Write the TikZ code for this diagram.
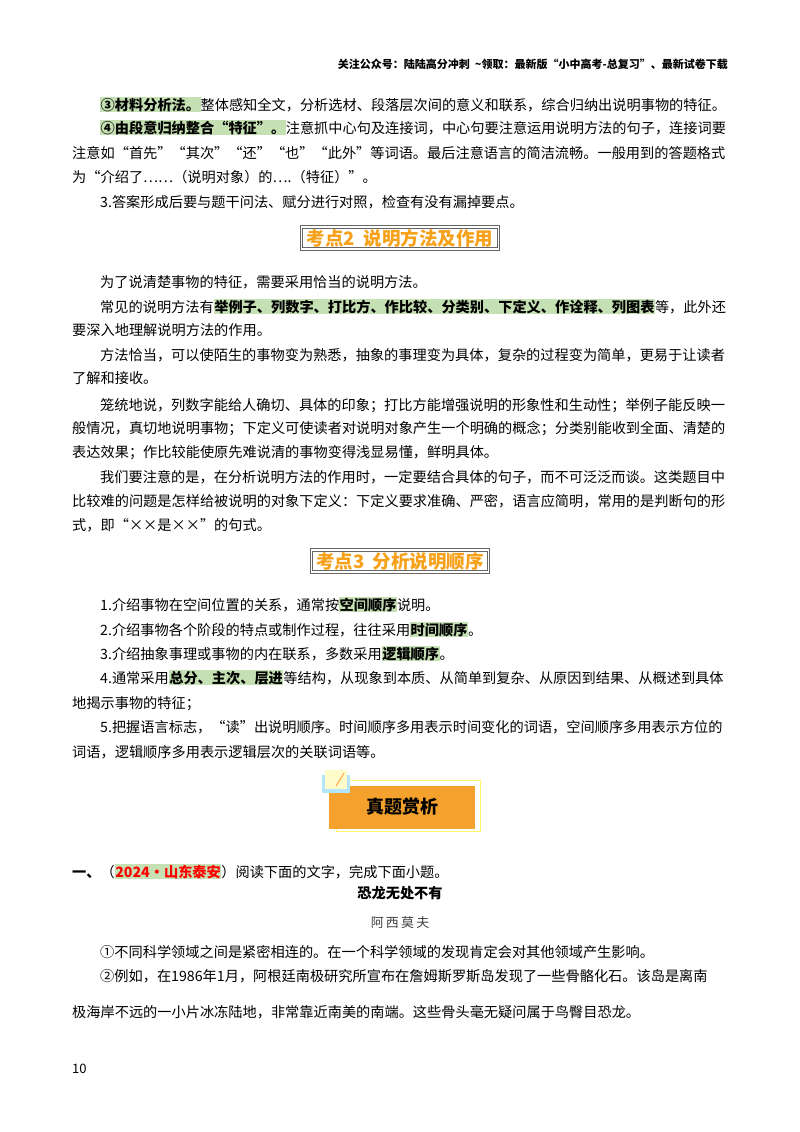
\documentclass[tikz,border=0pt]{standalone}
\usepackage{fontspec}
\setmainfont{Noto Sans CJK SC}
\definecolor{hlg}{HTML}{C5E0B3}
\definecolor{kor}{HTML}{F7A11A}
\definecolor{bdg}{HTML}{F4A22D}
\newcommand{\hlt}[1]{{\setlength{\fboxsep}{0.5pt}\colorbox{hlg}{\textbf{#1}}}}
\tikzset{ln/.style={anchor=base west,inner sep=0pt,font=\fontsize{14.2}{16}\selectfont},
 kbox/.style={draw=gray!80!black,double=white,double distance=1.2pt,line width=1pt,inner xsep=5pt,inner ysep=2pt,font=\fontsize{18.5}{20}\selectfont\bfseries,text=kor}}
\begin{document}
\begin{tikzpicture}[x=1pt,y=-1pt]
\useasboundingbox (0,0) rectangle (800,1132);
\node[anchor=base east,inner sep=0pt,font=\fontsize{11}{13}\selectfont\bfseries] (hd) at (728,69) {关注公众号：陆陆高分冲刺\ \ \textasciitilde 领取：最新版“小中高考-总复习”、最新试卷下载};
\node[ln] (l1) at (100,110) {\hlt{③材料分析法。}整体感知全文，分析选材、段落层次间的意义和联系，综合归纳出说明事物的特征。};
\node[ln] (l2) at (100,133) {\hlt{④由段意归纳整合“特征”。}注意抓中心句及连接词，中心句要注意运用说明方法的句子，连接词要};
\node[ln] (l3) at (72,158) {注意如“首先”“其次”“还”“也”“此外”等词语。最后注意语言的简洁流畅。一般用到的答题格式};
\node[ln] (l4) at (72,182) {为“介绍了……（说明对象）的….（特征）”。};
\node[ln] (l5) at (100,207) {3.答案形成后要与题干问法、赋分进行对照，检查有没有漏掉要点。};
\node[kbox] (k2) at (400,238) {考点2\ \ 说明方法及作用};
\node[ln] (m1) at (100,287) {为了说清楚事物的特征，需要采用恰当的说明方法。};
\node[ln] (m2) at (100,312) {常见的说明方法有\hlt{举例子、列数字、打比方、作比较、分类别、下定义、作诠释、列图表}等，此外还};
\node[ln] (m3) at (72,335) {要深入地理解说明方法的作用。};
\node[ln] (m4) at (100,360) {方法恰当，可以使陌生的事物变为熟悉，抽象的事理变为具体，复杂的过程变为简单，更易于让读者};
\node[ln] (m5) at (72,383) {了解和接收。};
\node[ln] (m6) at (100,410) {笼统地说，列数字能给人确切、具体的印象；打比方能增强说明的形象性和生动性；举例子能反映一};
\node[ln] (m7) at (72,433) {般情况，真切地说明事物；下定义可使读者对说明对象产生一个明确的概念；分类别能收到全面、清楚的};
\node[ln] (m8) at (72,457) {表达效果；作比较能使原先难说清的事物变得浅显易懂，鲜明具体。};
\node[ln] (m9) at (100,482) {我们要注意的是，在分析说明方法的作用时，一定要结合具体的句子，而不可泛泛而谈。这类题目中};
\node[ln] (m10) at (72,506) {比较难的问题是怎样给被说明的对象下定义：下定义要求准确、严密，语言应简明，常用的是判断句的形};
\node[ln] (m11) at (72,530) {式，即“××是××”的句式。};
\node[kbox] (k3) at (400,561) {考点3\ \ 分析说明顺序};
\node[ln] (n1) at (100,610) {1.介绍事物在空间位置的关系，通常按\hlt{空间顺序}说明。};
\node[ln] (n2) at (100,635) {2.介绍事物各个阶段的特点或制作过程，往往采用\hlt{时间顺序}。};
\node[ln] (n3) at (100,659) {3.介绍抽象事理或事物的内在联系，多数采用\hlt{逻辑顺序}。};
\node[ln] (n4) at (100,683) {4.通常采用\hlt{总分、主次、层进}等结构，从现象到本质、从简单到复杂、从原因到结果、从概述到具体};
\node[ln] (n5) at (72,708) {地揭示事物的特征；};
\node[ln] (n6) at (100,732) {5.把握语言标志，“读”出说明顺序。时间顺序多用表示时间变化的词语，空间顺序多用表示方位的};
\node[ln] (n7) at (72,757) {词语，逻辑顺序多用表示逻辑层次的关联词语等。};
% badge
\draw[draw=yellow!60!white,line width=0.8pt] (336,780) rectangle (480,831);
\fill[bdg] (329,786) rectangle (475,829);
\node[font=\fontsize{18}{20}\selectfont\bfseries] (zt) at (402,807) {真题赏析};
\fill[cyan!30!white] (322,775) rectangle (350,793);
\fill[yellow!20!white] (325,770) rectangle (347,789);
\draw[orange!70!white,line width=1pt] (336,786) -- (344,773);
% question
\node[ln] (q1) at (72,877) {\textbf{一、}（{\setlength{\fboxsep}{0.5pt}\colorbox{hlg}{\textbf{\textcolor{red}{2024・山东泰安}}}}）阅读下面的文字，完成下面小题。};
\node[anchor=base,inner sep=0pt,font=\fontsize{14.2}{16}\selectfont\bfseries] (tt) at (400,898) {恐龙无处不有};
\node[anchor=base,inner sep=0pt,font=\fontsize{13}{16}\selectfont,text=black!75] (au) at (400,927) {阿\,西\,莫\,夫};
\node[ln] (p1) at (100,957) {①不同科学领域之间是紧密相连的。在一个科学领域的发现肯定会对其他领域产生影响。};
\node[ln] (p2) at (100,981) {②例如，在1986年1月，阿根廷南极研究所宣布在詹姆斯罗斯岛发现了一些骨骼化石。该岛是离南};
\node[ln] (p3) at (72,1017) {极海岸不远的一小片冰冻陆地，非常靠近南美的南端。这些骨头毫无疑问属于鸟臀目恐龙。};
\node[ln,font=\fontsize{13}{15}\selectfont] (pg) at (72,1073) {10};
\end{tikzpicture}
\end{document}
